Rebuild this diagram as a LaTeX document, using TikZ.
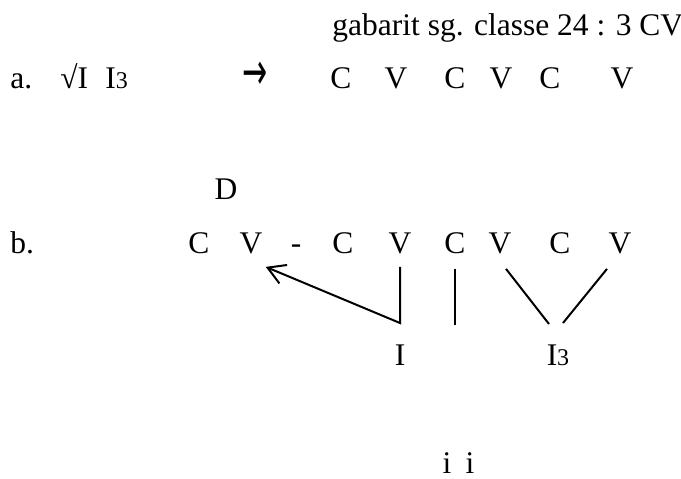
\documentclass[tikz,border=0pt]{standalone}
\usepackage{fontspec}
\setmainfont{Liberation Serif}
\newfontfamily\symfont{DejaVu Sans}
\usetikzlibrary{arrows.meta,calc,positioning}

\begin{document}
\begin{tikzpicture}[x=0.5pt,y=-0.5pt,
    every node/.style={font=\fontsize{15.75}{18}\selectfont,inner sep=0pt},
    seg/.style={anchor=base},
    segb/.style={anchor=base,inner ysep=6.5pt},
    link/.style={line width=1pt}]
  \useasboundingbox (0,0) rectangle (681,478);
  % header
  \node[anchor=base west] (gab) at (332,35) {gabarit sg. classe 24 : 3 CV};
  % line a
  \node[anchor=base west] (la) at (10,88) {a.};
  \node[anchor=base west] (root) at (60,88) {√I};
  \node[anchor=base west] (suf) at (105,88) {I{\fontsize{12}{14}\selectfont 3}};
  \node[font=\symfont\fontsize{20}{22}\selectfont] (arr) at (255,76)
    {\scalebox{0.75}[1.3]{→}};
  \node[seg] (ca1) at (341,88) {C};
  \node[seg] (va1) at (396,88) {V};
  \node[seg] (ca2) at (455,88) {C};
  \node[seg] (va2) at (501,88) {V};
  \node[seg] (ca3) at (550,88) {C};
  \node[seg] (va3) at (622,88) {V};
  % line b
  \node[anchor=base west] (lb) at (10,253) {b.};
  \node[seg] (dd) at (226,199) {D};
  \node[segb] (cb1) at (199,253) {C};
  \node[segb] (vb1) at (251,253) {V};
  \node[seg] (dash) at (296,253) {-};
  \node[segb] (cb2) at (343,253) {C};
  \node[segb] (vb2) at (400,253) {V};
  \node[segb] (cb3) at (455,253) {C};
  \node[segb] (vb3) at (500,253) {V};
  \node[segb] (cb4) at (560,253) {C};
  \node[segb] (vb4) at (620,253) {V};
  \node[seg] (mi) at (400,365) {I};
  \node[seg] (mt) at (558,365) {I{\fontsize{12}{14}\selectfont 3}};
  \node[seg] (i1) at (447,473) {i};
  \node[seg] (i2) at (470,473) {i};
  % association lines
  \coordinate (k1) at (400,323);
  \coordinate (k2) at (455,325);
  \coordinate (k3) at (549,324);
  \coordinate (k4) at (563,323);
  \draw[link,-{Straight Barb[length=8.5pt,width=10pt]}]
    (vb2.south) -- (k1) -- ($(vb1.south east)+(3,0)$);
  \draw[link] ($(cb3.south)+(0,2)$) -- (k2);
  \draw[link] ($(vb3.south)+(6,2)$) -- (k3);
  \draw[link] ($(vb4.south)+(-13,2)$) -- (k4);
\end{tikzpicture}
\end{document}
